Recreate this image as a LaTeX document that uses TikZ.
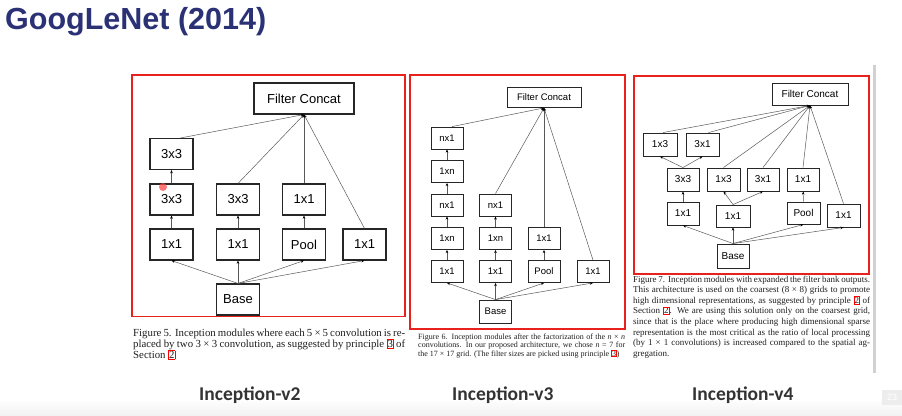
\documentclass[tikz,border=0pt]{standalone}
\usepackage{fontspec}
\setmainfont{Liberation Serif}
\newfontfamily\arialf{Liberation Sans}
\newfontfamily\calib{Carlito}
\usetikzlibrary{arrows.meta}
\definecolor{navy}{HTML}{2B3175}
\definecolor{redbox}{HTML}{E8211C}
\definecolor{captxt}{HTML}{1E1E1E}
\definecolor{labtxt}{HTML}{333333}
\newcommand\rbx[1]{{\setlength\fboxsep{0.4pt}\setlength\fboxrule{0.5pt}\fcolorbox{red}{white}{#1}}}
\begin{document}
\begin{tikzpicture}[x=1pt,y=-1pt,
  blk/.style={draw=black!85, fill=white, inner sep=0pt},
  b2/.style={blk, line width=1.1pt, minimum width=43pt, minimum height=31pt, font=\arialf\fontsize{13}{13}\selectfont},
  b3/.style={blk, line width=0.8pt, minimum width=32pt, minimum height=22pt, font=\arialf\fontsize{9.5}{9.5}\selectfont},
  b4/.style={blk, line width=0.9pt, minimum width=33pt, minimum height=23pt, font=\arialf\fontsize{10}{10}\selectfont},
  con/.style={draw=black!65, line width=0.5pt, -{Stealth[length=3.2pt,width=2.6pt,color=black]}},
  redframe/.style={draw=redbox, line width=1.8pt},
  captext/.style={anchor=base west, inner sep=0pt, text=captxt},
  lab/.style={anchor=base west, inner sep=0pt, text=labtxt, font=\calib\bfseries\fontsize{19.5}{19.5}\selectfont}
]
\useasboundingbox (0,0) rectangle (902,415);
\shade[top color=white, bottom color=black!5] (0,398) rectangle (902,415);

% title
\node[anchor=base west, inner sep=0pt, text=navy, font=\arialf\bfseries\fontsize{30.5}{30.5}\selectfont] (title) at (5,29.5) {GoogLeNet (2014)};

% ---------------- Inception-v2 ----------------
\draw[redframe] (132,75) rectangle (405,316.5);
\node[b2, minimum width=100pt] (fc2) at (304,98.5) {Filter Concat};
\node[b2] (a1) at (171.5,154) {3x3};
\node[b2] (a2) at (171.5,199.5) {3x3};
\node[b2] (a3) at (171.5,244.5) {1x1};
\node[b2] (b2n) at (238,199.5) {3x3};
\node[b2] (b3n) at (238,244.5) {1x1};
\node[b2] (c2n) at (304,199.5) {1x1};
\node[b2] (c3n) at (304,244.5) {Pool};
\node[b2] (d3n) at (364.5,244.5) {1x1};
\node[b2] (base2) at (238,299.5) {Base};
\draw[con] (base2.north) -- (a3.south);
\draw[con] (base2.north) -- (b3n.south);
\draw[con] (base2.north) -- (c3n.south);
\draw[con] (base2.north) -- (d3n.south);
\draw[con] (a3) -- (a2);
\draw[con] (a2) -- (a1);
\draw[con] (b3n) -- (b2n);
\draw[con] (c3n) -- (c2n);
\draw[con] ([xshift=9pt]a1.north) -- (fc2.south);
\draw[con] (b2n.north) -- (fc2.south);
\draw[con] (c2n.north) -- (fc2.south);
\draw[con] (d3n.north) -- (fc2.south);
\fill[red!75, opacity=0.7] (163,187) circle (4pt);

\node[captext, font=\fontsize{10.8}{11}\selectfont] (cv2a) at (133,336.5) {\makebox[272pt][s]{Figure 5. Inception modules where each 5 × 5 convolution is re-}};
\node[captext, font=\fontsize{10.8}{11}\selectfont] (cv2b) at (133,347.5) {\makebox[272pt][s]{placed by two 3 × 3 convolution, as suggested by principle \rbx{3} of}};
\node[captext, font=\fontsize{10.8}{11}\selectfont] (cv2c) at (133,358.5) {Section \rbx{2}};

% ---------------- Inception-v3 ----------------
\draw[redframe] (410,75) rectangle (625,329);
\node[b3, minimum width=74pt, minimum height=20pt] (fc3) at (544,97.5) {Filter Concat};
\node[b3] (p1) at (447,138) {nx1};
\node[b3] (p2) at (447,171.5) {1xn};
\node[b3] (p3) at (447,205) {nx1};
\node[b3] (p4) at (447,238.5) {1xn};
\node[b3] (p5) at (447,271.5) {1x1};
\node[b3] (q3) at (495.5,205) {nx1};
\node[b3] (q4) at (495.5,238.5) {1xn};
\node[b3] (q5) at (495.5,271.5) {1x1};
\node[b3] (r4) at (544,238.5) {1x1};
\node[b3] (r5) at (544,271.5) {Pool};
\node[b3] (s5) at (593,271.5) {1x1};
\node[b3, minimum height=23pt] (base3) at (495.5,311.5) {Base};
\draw[con] (base3.north) -- (p5.south);
\draw[con] (base3.north) -- (q5.south);
\draw[con] (base3.north) -- (r5.south);
\draw[con] (base3.north) -- (s5.south);
\draw[con] (p5) -- (p4);
\draw[con] (p4) -- (p3);
\draw[con] (p3) -- (p2);
\draw[con] (p2) -- (p1);
\draw[con] (q5) -- (q4);
\draw[con] (q4) -- (q3);
\draw[con] (r5) -- (r4);
\draw[con] ([xshift=5pt]p1.north) -- (fc3.south);
\draw[con] (q3.north) -- (fc3.south);
\draw[con] (r4.north) -- (fc3.south);
\draw[con] (s5.north) -- (fc3.south);

\node[captext, font=\fontsize{8}{8}\selectfont] (cv3a) at (418,339) {\makebox[207pt][s]{Figure 6. Inception modules after the factorization of the \textit{n} × \textit{n}}};
\node[captext, font=\fontsize{8}{8}\selectfont] (cv3b) at (418,347.5) {\makebox[207pt][s]{convolutions. In our proposed architecture, we chose \textit{n} = 7 for}};
\node[captext, font=\fontsize{8}{8}\selectfont] (cv3c) at (418,356) {the 17 × 17 grid. (The filter sizes are picked using principle \rbx{3})};

% ---------------- Inception-v4 ----------------
\draw[redframe] (634,76) rectangle (869,274);
\node[b4, minimum width=76pt, minimum height=22pt] (fc4) at (810,94) {Filter Concat};
\node[b4, minimum width=34pt] (t1) at (660,144.5) {1x3};
\node[b4] (t2) at (702.5,144.5) {3x1};
\node[b4, minimum width=32pt] (m1) at (683,179.5) {3x3};
\node[b4] (m2) at (723.5,179.5) {1x3};
\node[b4, minimum width=32pt] (m3) at (763,179.5) {3x1};
\node[b4, minimum width=32pt] (m4) at (803,179.5) {1x1};
\node[b4, minimum width=32pt] (l1) at (683,213.5) {1x1};
\node[b4, minimum width=34pt, minimum height=22pt] (l2) at (733,216) {1x1};
\node[b4, minimum height=22pt] (l3) at (803.5,213) {Pool};
\node[b4] (l4) at (843.5,215.5) {1x1};
\node[b4, minimum width=32pt, minimum height=24pt] (base4) at (733,256) {Base};
\draw[con] (base4.north) -- (l1.south);
\draw[con] (base4.north) -- (l2.south);
\draw[con] (base4.north) -- (l3.south);
\draw[con] (base4.north) -- (l4.south);
\draw[con] (l1) -- (m1);
\draw[con] (m1.north) -- (t1.south);
\draw[con] (m1.north) -- (t2.south);
\draw[con] (l2.north) -- (m2.south);
\draw[con] (l2.north) -- (m3.south);
\draw[con] (l3) -- (m4);
\draw[con] ([xshift=3pt]t1.north) -- (fc4.south);
\draw[con] ([xshift=6pt]t2.north) -- (fc4.south);
\draw[con] (m2.north) -- (fc4.south);
\draw[con] (m3.north) -- (fc4.south);
\draw[con] (m4.north) -- (fc4.south);
\draw[con] (l4.north) -- (fc4.south);

\node[captext, font=\fontsize{9}{9}\selectfont] (cv4a) at (633,282) {\makebox[237pt][s]{Figure 7. Inception modules with expanded the filter bank outputs.}};
\node[captext, font=\fontsize{9}{9}\selectfont] (cv4b) at (633,292.6) {\makebox[237pt][s]{This architecture is used on the coarsest (8 × 8) grids to promote}};
\node[captext, font=\fontsize{9}{9}\selectfont] (cv4c) at (633,303.2) {\makebox[237pt][s]{high dimensional representations, as suggested by principle \rbx{2} of}};
\node[captext, font=\fontsize{9}{9}\selectfont] (cv4d) at (633,313.8) {\makebox[237pt][s]{Section \rbx{2}. We are using this solution only on the coarsest grid,}};
\node[captext, font=\fontsize{9}{9}\selectfont] (cv4e) at (633,324.4) {\makebox[237pt][s]{since that is the place where producing high dimensional sparse}};
\node[captext, font=\fontsize{9}{9}\selectfont] (cv4f) at (633,335) {\makebox[237pt][s]{representation is the most critical as the ratio of local processing}};
\node[captext, font=\fontsize{9}{9}\selectfont] (cv4g) at (633,345.6) {\makebox[237pt][s]{(by 1 × 1 convolutions) is increased compared to the spatial ag-}};
\node[captext, font=\fontsize{9}{9}\selectfont] (cv4h) at (633,356.2) {gregation.};

% scrollbar and page number
\fill[black!18] (872.5,65) rectangle (875.5,373);
\node[fill=black!7, text=white, minimum width=20pt, minimum height=15pt, inner sep=0pt, font=\arialf\fontsize{9}{9}\selectfont] (pg) at (892,397.5) {23};

% bottom labels
\node[lab] (l-v2) at (199,400) {Inception-v2};
\node[lab] (l-v3) at (452,400) {Inception-v3};
\node[lab] (l-v4) at (692,400) {Inception-v4};
\end{tikzpicture}
\end{document}
